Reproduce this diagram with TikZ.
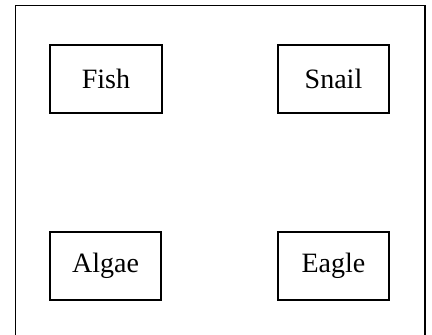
\documentclass[tikz,border=0pt]{standalone}
\usepackage{fontspec}
\setmainfont{Liberation Serif}
\begin{document}
\begin{tikzpicture}[x=1bp,y=-1bp,
  animal/.style={draw, line width=2bp, minimum width=111bp, minimum height=68bp, inner sep=0pt, font=\fontsize{28bp}{32bp}\selectfont}]
\useasboundingbox (0,0) rectangle (432,335);
\clip (0,0) rectangle (432,335);
\draw[line width=1.8bp] (15.5,5.5) rectangle (425,360);
\node[animal] (fish) at (106,78.5) {Fish};
\node[animal] (snail) at (333.5,78.5) {Snail};
\node[animal] (algae) at (105.5,266) {Algae};
\node[animal] (eagle) at (333.5,265.5) {Eagle};
\end{tikzpicture}
\end{document}
